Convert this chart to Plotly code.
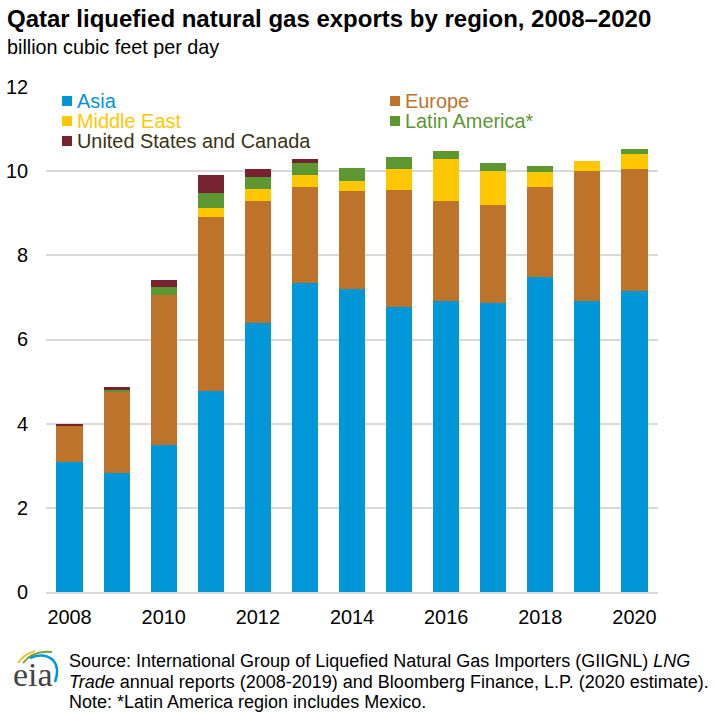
import plotly.graph_objects as go

# Daten
years = list(range(2008, 2021))
asia = [3.1, 2.82, 3.5, 4.78, 6.4, 7.35, 7.2, 6.78, 6.92, 6.87, 7.48, 6.92, 7.15]
europe = [0.85, 1.94, 3.55, 4.12, 2.9, 2.27, 2.33, 2.77, 2.36, 2.33, 2.14, 3.08, 2.9]
middle_east = [0.0, 0.0, 0.0, 0.23, 0.27, 0.3, 0.24, 0.5, 1.02, 0.8, 0.35, 0.25, 0.35]
latin_america = [0.0, 0.03, 0.2, 0.36, 0.28, 0.28, 0.3, 0.28, 0.17, 0.2, 0.15, 0.0, 0.13]
us_canada = [0.03, 0.09, 0.17, 0.41, 0.2, 0.09, 0.0, 0.0, 0.0, 0.0, 0.0, 0.0, 0.0]

series = [
    ("Asia", asia, "#0096D7"),
    ("Europe", europe, "#BD732A"),
    ("Middle East", middle_east, "#FFC700"),
    ("Latin America*", latin_america, "#5D9732"),
    ("United States and Canada", us_canada, "#76232F"),
]

W, H = 714, 713
L, R, T, B = 46, 56, 87, 121
FONT = "Liberation Sans"

fig = go.Figure()
for name, vals, col in series:
    fig.add_trace(go.Bar(x=years, y=vals, name=name, marker_color=col, marker_line_width=0))


# Pixel -> Paper
def px(x):
    return (x - L) / (W - L - R)


def py(y):
    return 1 - (y - T) / (H - T - B)


annotations = []
shapes = []


def text(x, y, s, size, color="#000000", anchor="left", family=FONT):
    annotations.append(dict(
        x=px(x), y=py(y), xref="paper", yref="paper", text=s, showarrow=False,
        xanchor=anchor, yanchor="middle", align="left",
        font=dict(family=family, size=size, color=color),
        borderpad=0, borderwidth=0,
    ))


# Titel
text(7, 19, "<b>Qatar liquefied natural gas exports by region, 2008–2020</b>", 24)
text(7, 47, "billion cubic feet per day", 19.8)

# Legende von Hand (zwei Spalten, farbiger Text)
legend_pos = [(62, 101), (390, 101), (62, 121), (390, 121), (62, 141)]
for (name, vals, col), (lx, ly) in zip(series, legend_pos):
    shapes.append(dict(type="rect", xref="paper", yref="paper", line_width=0, fillcolor=col,
                       x0=px(lx), x1=px(lx + 10), y0=py(ly + 5), y1=py(ly - 5)))
    tc = col if name != "United States and Canada" else "#3B3214"
    text(lx + 15, ly, name, 19.9, tc)

# Quelle
text(69, 661, "Source: International Group of Liquefied Natural Gas Importers (GIIGNL) <i>LNG</i>", 18)
text(69, 682, "<i>Trade</i> annual reports (2008-2019) and Bloomberg Finance, L.P. (2020 estimate).", 18)
text(69, 702, "Note: *Latin America region includes Mexico.", 18)

# EIA Logo
text(33, 674, "eia", 34, "#444444", anchor="center", family="Liberation Serif")
for d, col, w in [
    ("M 18 663 Q 24 654 35 651", "#F2C230", 2),
    ("M 23 663 Q 33 650 52 652", "#6FA53A", 2),
    ("M 30 658 Q 44 652 53 660 Q 60 668 55 682", "#0096D7", 2.5),
]:
    parts = d.split()
    out = []
    i = 0
    while i < len(parts):
        if parts[i] in "MQ":
            out.append(parts[i])
            i += 1
        else:
            out.append(f"{px(float(parts[i])):.4f},{py(float(parts[i + 1])):.4f}")
            i += 2
    shapes.append(dict(type="path", xref="paper", yref="paper", path=" ".join(out),
                       line=dict(color=col, width=w)))

fig.update_layout(
    barmode="stack",
    bargap=0.445,
    width=W,
    height=H,
    showlegend=False,
    plot_bgcolor="white",
    paper_bgcolor="white",
    font=dict(family=FONT, size=19.9, color="#000000"),
    margin=dict(l=L, r=R, t=T, b=B, pad=0),
    annotations=annotations,
    shapes=shapes,
    xaxis=dict(
        range=[2007.5, 2020.5], tickmode="array", tickvals=years[::2],
        ticktext=[str(y) for y in years[::2]], showgrid=False, ticks="",
        showline=True, linecolor="#D9D9D9", linewidth=2, zeroline=False,
        ticklabelstandoff=6, automargin=False,
    ),
    yaxis=dict(
        range=[0, 12], tickmode="array", tickvals=[0, 2, 4, 6, 8, 10, 12],
        showgrid=True, gridcolor="#D9D9D9", gridwidth=2, zeroline=False, ticks="",
        ticklabelstandoff=17, automargin=False,
    ),
)

fig.write_html("out.html", config=dict(displayModeBar=False),
               post_script="document.body.style.margin='0';")
